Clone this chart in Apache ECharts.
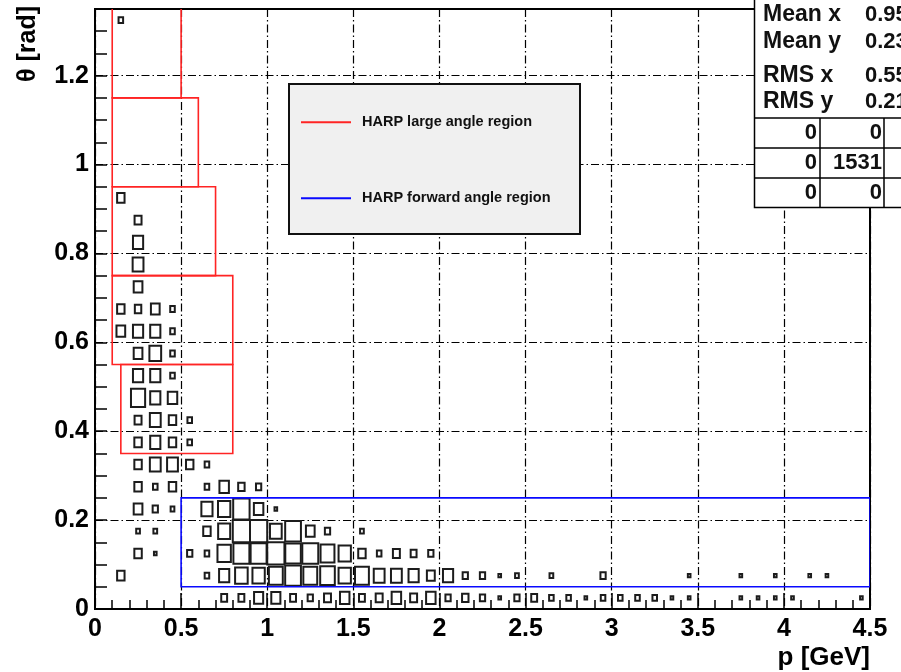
<!DOCTYPE html>
<html>
<head>
<meta charset="utf-8">
<script src="https://cdn.jsdelivr.net/npm/echarts@6/dist/echarts.min.js"></script>
<style>
  html, body { margin: 0; padding: 0; background: #ffffff; }
  #chart { width: 901px; height: 672px; }
</style>
</head>
<body>
<div id="chart"></div>
<script>
// ---- binning of the 2D histogram (p in GeV, theta in rad) ----
const P_BIN = 0.1;
const THETA_BIN = 0.05;
const P_RANGE = [0, 4.5];
const THETA_RANGE = [0, 1.35];
const P_MAJOR = 0.5;
const THETA_MAJOR = 0.2;

// entries per cell: [p bin centre, entries] for each theta row
const theta0025 = [[0.75,5],[0.85,5],[0.95,12],[1.05,12],[1.15,5],[1.25,4],[1.35,7],[1.45,13],[1.55,5],[1.65,7],[1.75,13],[1.85,7],[1.95,13],[2.05,4],[2.15,6],[2.25,4],[2.35,1],[2.45,4],[2.55,5],[2.65,3],[2.75,3],[2.85,1],[2.95,3],[3.05,3],[3.15,3],[3.25,3],[3.35,1],[3.45,1],[3.75,1],[3.85,1],[3.95,1],[4.05,1],[4.45,1]];
const theta0075 = [[0.15,8],[0.65,3],[0.75,15],[0.85,23],[0.95,22],[1.05,28],[1.15,36],[1.25,28],[1.35,31],[1.45,22],[1.55,28],[1.65,17],[1.75,17],[1.85,15],[1.95,9],[2.05,15],[2.15,4],[2.25,4],[2.35,1],[2.45,2],[2.65,2],[2.95,4],[3.45,1],[3.75,1],[3.95,1],[4.15,1],[4.25,1]];
const theta0125 = [[0.25,8],[0.35,1],[0.55,4],[0.65,3],[0.75,26],[0.85,37],[0.95,37],[1.05,43],[1.15,35],[1.25,37],[1.35,28],[1.45,22],[1.55,8],[1.65,3],[1.75,7],[1.85,5],[1.95,4]];
const theta0175 = [[0.25,2],[0.35,2],[0.65,8],[0.75,21],[0.85,43],[0.95,43],[1.05,20],[1.15,36],[1.25,11],[1.35,4],[1.55,2]];
const theta0225 = [[0.25,11],[0.35,4],[0.45,2],[0.65,18],[0.75,22],[0.85,39],[0.95,13],[1.05,1]];
const theta0275 = [[0.25,8],[0.35,3],[0.45,8],[0.65,3],[0.75,13],[0.85,6],[0.95,4]];
const theta0325 = [[0.25,8],[0.35,17],[0.45,17],[0.55,8],[0.65,3]];
const theta0375 = [[0.25,8],[0.35,15],[0.45,8],[0.55,3]];
const theta0425 = [[0.25,7],[0.35,17],[0.45,8],[0.55,3]];
const theta0475 = [[0.25,29],[0.35,15],[0.45,13]];
const theta0525 = [[0.25,15],[0.35,15],[0.45,3]];
const theta0575 = [[0.25,11],[0.35,20],[0.45,3]];
const theta0625 = [[0.15,11],[0.25,15],[0.35,15],[0.45,3]];
const theta0675 = [[0.15,8],[0.25,6],[0.35,11],[0.45,3]];
const theta0725 = [[0.25,11]];
const theta0775 = [[0.25,17]];
const theta0825 = [[0.25,15]];
const theta0875 = [[0.25,7]];
const theta0925 = [[0.15,8]];
const theta1325 = [[0.15,3]];

const thetaRows = [
  [0.025, theta0025], [0.075, theta0075], [0.125, theta0125], [0.175, theta0175],
  [0.225, theta0225], [0.275, theta0275], [0.325, theta0325], [0.375, theta0375],
  [0.425, theta0425], [0.475, theta0475], [0.525, theta0525], [0.575, theta0575],
  [0.625, theta0625], [0.675, theta0675], [0.725, theta0725], [0.775, theta0775],
  [0.825, theta0825], [0.875, theta0875], [0.925, theta0925], [1.325, theta1325]
];

// acceptance regions: [pMin, pMax, thetaMin, thetaMax]
const largeAngleRegion = [[0.15,0.8,0.35,0.55],[0.1,0.8,0.55,0.75],[0.1,0.7,0.75,0.95],[0.1,0.6,0.95,1.15],[0.1,0.5,1.15,1.55]];
const forwardRegion = [[0.5,4.5,0.05,0.25]];

const LARGE_NAME = 'HARP large angle region';
const FORWARD_NAME = 'HARP forward angle region';

// statistics box contents
const statsNames = ['Mean x', 'Mean y', 'RMS x', 'RMS y'];
const statsValues = ['0.95', '0.23', '0.55', '0.21'];

// ---- build the cell list ----
const cells = [];
thetaRows.forEach(([theta, row]) => row.forEach(([p, n]) => cells.push([p, theta, n])));
const maxEntries = Math.max(...cells.map(c => c[2]));
const totalEntries = cells.reduce((s, c) => s + c[2], 0);
const overflowTable = [[0, 0, 0], [0, totalEntries, 0], [0, 0, 0]];

const FONT = '"Liberation Sans", Arial, Helvetica, sans-serif';
const RED = '#ff2424';
const BLUE = '#0a0aff';
const GRID_DASH = [8, 3, 1.5, 3];

const chart = echarts.init(document.getElementById('chart'), null, { renderer: 'canvas' });

// box drawing: side scales with the square root of the cell content
function renderBox(params, api) {
  const c = api.coord([api.value(0), api.value(1)]);
  const s = api.size([P_BIN, THETA_BIN]);
  const f = Math.sqrt(api.value(2) / maxEntries);
  const w = s[0] * f, h = s[1] * f;
  return {
    type: 'rect',
    shape: { x: c[0] - w / 2, y: c[1] - h / 2, width: w, height: h },
    style: { fill: 'none', stroke: '#1c1c1c', lineWidth: 2 }
  };
}

function regionRenderer(color) {
  return function (params, api) {
    const a = api.coord([api.value(0), api.value(3)]);
    const b = api.coord([api.value(1), api.value(2)]);
    return {
      type: 'rect',
      shape: { x: a[0], y: a[1], width: b[0] - a[0], height: b[1] - a[1] },
      style: { fill: 'none', stroke: color, lineWidth: 1.6 }
    };
  };
}

const isMajorTheta = v => Math.abs(v / THETA_MAJOR - Math.round(v / THETA_MAJOR)) < 1e-6;

// statistics box graphics
const statsGraphics = [
  { type: 'rect', z: 20, shape: { x: 754.5, y: -10, width: 170, height: 217.5 },
    style: { fill: '#ffffff', stroke: '#000', lineWidth: 1.5 } }
];
[118, 148, 178].forEach(y => statsGraphics.push({
  type: 'line', z: 21, shape: { x1: 754.5, y1: y, x2: 905, y2: y }, style: { stroke: '#000', lineWidth: 1.5 }
}));
[820, 884].forEach(x => statsGraphics.push({
  type: 'line', z: 21, shape: { x1: x, y1: 118, x2: x, y2: 207.5 }, style: { stroke: '#000', lineWidth: 1.5 }
}));
const statsRowY = [15, 42, 76, 102];
statsNames.forEach((name, i) => {
  statsGraphics.push({ type: 'text', z: 22, x: 763, y: statsRowY[i],
    style: { text: name, font: 'bold 23px ' + FONT, fill: '#111', align: 'left', verticalAlign: 'middle' } });
  statsGraphics.push({ type: 'text', z: 22, x: 865, y: statsRowY[i],
    style: { text: statsValues[i], font: 'bold 22px ' + FONT, fill: '#111', align: 'left', verticalAlign: 'middle' } });
});
const tableRowY = [133, 163, 193];
const tableColX = [817, 882, 946];
overflowTable.forEach((row, r) => row.forEach((v, c) => statsGraphics.push({
  type: 'text', z: 22, x: tableColX[c], y: tableRowY[r],
  style: { text: String(v), font: 'bold 22px ' + FONT, fill: '#111', align: 'right', verticalAlign: 'middle' }
})));

const option = {
  animation: false,
  backgroundColor: '#ffffff',
  grid: { left: 95, top: 9, width: 775, height: 600, show: true, borderColor: '#000', borderWidth: 2, backgroundColor: 'transparent' },
  xAxis: {
    type: 'value', min: P_RANGE[0], max: P_RANGE[1], interval: P_MAJOR,
    axisLine: { show: true, onZero: false, lineStyle: { color: '#000', width: 2 } },
    axisTick: { show: true, inside: true, length: 16, lineStyle: { color: '#000', width: 1.5 } },
    minorTick: { show: true, splitNumber: 5, length: 9, lineStyle: { color: '#000', width: 1.5 } },
    axisLabel: { margin: 8, color: '#000', fontFamily: FONT, fontWeight: 'bold', fontSize: 25 },
    splitLine: { show: true, lineStyle: { color: '#000', width: 1.2, type: GRID_DASH } }
  },
  yAxis: [
    {
      type: 'value', min: THETA_RANGE[0], max: THETA_RANGE[1], interval: THETA_BIN,
      axisLine: { show: true, onZero: false, lineStyle: { color: '#000', width: 2 } },
      axisTick: { show: true, inside: true, length: 12, lineStyle: { color: '#000', width: 1.5 } },
      axisLabel: {
        margin: 6, color: '#000', fontFamily: FONT, fontWeight: 'bold', fontSize: 25,
        showMaxLabel: false,
        formatter: v => isMajorTheta(v) ? String(+v.toFixed(1)) : ''
      },
      splitLine: { show: false }
    },
    {
      type: 'value', min: THETA_RANGE[0], max: THETA_RANGE[1], interval: THETA_MAJOR,
      axisLine: { show: false }, axisTick: { show: false }, axisLabel: { show: false },
      splitLine: { show: true, lineStyle: { color: '#000', width: 1.2, type: GRID_DASH } }
    }
  ],
  legend: {
    data: [
      { name: LARGE_NAME, icon: 'rect', itemStyle: { color: RED } },
      { name: FORWARD_NAME, icon: 'rect', itemStyle: { color: BLUE } }
    ],
    orient: 'vertical', left: 301, top: 114.7, padding: 0,
    itemWidth: 50, itemHeight: 2, itemGap: 61, selectedMode: false, z: 12,
    textStyle: { fontFamily: FONT, fontSize: 14.5, fontWeight: 'bold', color: '#111', padding: [0, 0, 0, 6] }
  },
  graphic: [
    { type: 'rect', z: 11, shape: { x: 289, y: 84, width: 291, height: 150 },
      style: { fill: '#f0f0f0', stroke: '#111', lineWidth: 2 } },
    { type: 'text', z: 12, x: 870, y: 658,
      style: { text: 'p [GeV]', font: 'bold 26px ' + FONT, fill: '#000', align: 'right', verticalAlign: 'middle' } },
    { type: 'text', z: 12, x: 28, y: 6, rotation: Math.PI / 2,
      style: { text: 'θ [rad]', font: 'bold 25px ' + FONT, fill: '#000', align: 'right', verticalAlign: 'middle' } },
    ...statsGraphics
  ],
  series: [
    {
      type: 'custom', name: 'entries', renderItem: renderBox, data: cells,
      encode: { x: 0, y: 1 }, clip: true, z: 3, silent: true
    },
    {
      type: 'custom', name: LARGE_NAME, renderItem: regionRenderer(RED), data: largeAngleRegion,
      itemStyle: { color: RED }, encode: { x: [0, 1], y: [2, 3] }, clip: true, z: 4, silent: true
    },
    {
      type: 'custom', name: FORWARD_NAME, renderItem: regionRenderer(BLUE), data: forwardRegion,
      itemStyle: { color: BLUE }, encode: { x: [0, 1], y: [2, 3] }, clip: true, z: 4, silent: true
    }
  ]
};

chart.setOption(option);
</script>
</body>
</html>
